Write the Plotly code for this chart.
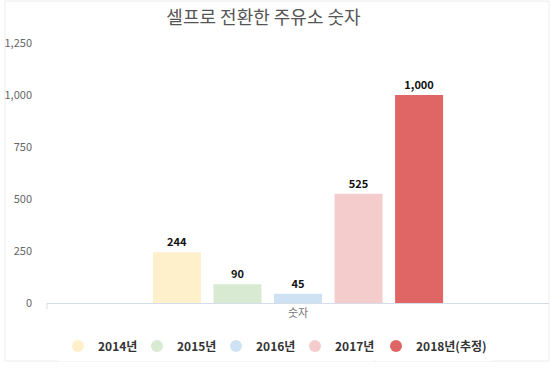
import plotly.graph_objects as go

category = ["숫자"]
series_names = ["2014년", "2015년", "2016년", "2017년", "2018년(추정)"]
series_values = [244, 90, 45, 525, 1000]
colors = ["#FFF0CC", "#D9EAD3", "#CFE2F3", "#F4CCCC", "#E06666"]
y_ticks = [0, 250, 500, 750, 1000, 1250]

font_family = "Noto Sans CJK KR, Noto Sans, sans-serif"

fig = go.Figure()
for name, val, col in zip(series_names, series_values, colors):
    fig.add_trace(go.Bar(
        x=category, y=[val], name=name, showlegend=False,
        marker=dict(color=col, line=dict(width=0)),
        texttemplate="<b>%{y:,.0f}</b>", textposition="outside",
        textfont=dict(size=11, color="#111", family=font_family),
        cliponaxis=False,
    ))
# legend entries with circle markers
for i, (name, col) in enumerate(zip(series_names, colors)):
    fig.add_trace(go.Scatter(
        x=[None], y=[None], mode="markers", name="<b>" + name + "</b>",
        marker=dict(color=col, size=12, symbol="circle"),
        legend="legend" if i < 4 else "legend2",
    ))

W, H = 550, 373
L, R, T, B = 47, 1, 43, 70
pw, ph = W - L - R, H - T - B

def px(x):
    return (x - L) / pw

def py(y):
    return (H - B - y) / ph

legend_font = dict(size=12, color="#333", family=font_family)

fig.update_layout(
    width=W, height=H,
    margin=dict(l=L, r=R, t=T, b=B),
    paper_bgcolor="white", plot_bgcolor="white",
    barmode="group", bargap=0.397, bargroupgap=0.207,
    font=dict(family=font_family, color="#555"),
    title=dict(text="셀프로 전환한 주유소 숫자", x=263.5 / W, xanchor="center",
               xref="container",
               y=1 - 18 / H, yanchor="middle",
               font=dict(size=18, color="#555", family=font_family)),
    xaxis=dict(showline=True, linecolor="#d5dcea", linewidth=1, ticks="",
               showgrid=False, tickfont=dict(size=11, color="#777"),
               range=[-0.5, 0.5]),
    yaxis=dict(range=[0, 1250], tickvals=y_ticks, tickformat=",",
               showgrid=False, zeroline=False, showline=False, ticks="",
               ticklabelstandoff=14,
               tickfont=dict(size=11, color="#666")),
    showlegend=True,
    legend=dict(orientation="h", x=px(58), xanchor="left",
                y=py(346), yanchor="middle",
                entrywidth=34, entrywidthmode="pixels",
                itemwidth=30, font=legend_font, traceorder="normal"),
    legend2=dict(orientation="h", x=px(376), xanchor="left",
                 y=py(346), yanchor="middle",
                 itemwidth=30, font=legend_font),
    shapes=[
        dict(type="rect", xref="paper", yref="paper",
             x0=px(5), x1=px(549), y0=py(361), y1=py(1),
             line=dict(color="#ececec", width=1), layer="below"),
        dict(type="line", xref="paper", yref="paper",
             x0=0, x1=0, y0=0, y1=py(H - B + 6),
             line=dict(color="#d5dcea", width=1)),
    ],
)

fig.write_html("out.html")
